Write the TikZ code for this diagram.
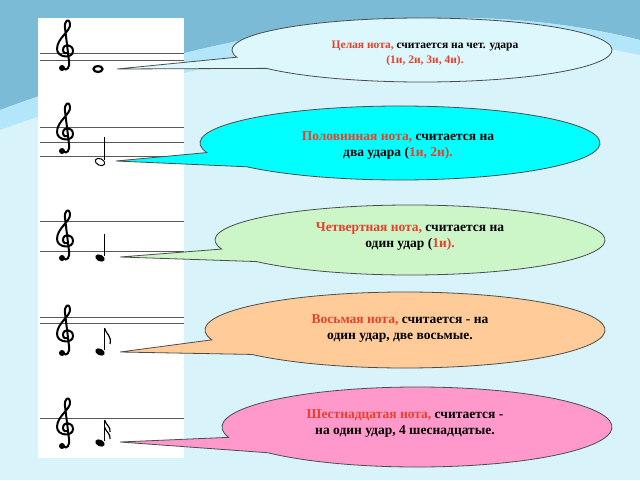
\documentclass[tikz,border=0pt]{standalone}
\usepackage{fontspec}
\usetikzlibrary{calc}
\setmainfont{Liberation Serif}
\begin{document}
\begin{tikzpicture}[x=1pt,y=-1pt,
  bub/.style={draw=black!70,line width=0.8pt},
  txt/.style={font=\bfseries\fontsize{13.5}{16}\selectfont,align=center},
  staff/.style={draw=black!65,line width=0.9pt},
  trebleclef/.pic={
    \draw[line width=2pt,line cap=round] (-3,22) .. controls (1,26) and (4,21) .. (3,15) -- (-1,-18) .. controls (-2,-25) and (3,-29) .. (4,-22) .. controls (5,-15) and (-9,-8) .. (-9,3) .. controls (-9,12) and (7,13) .. (7,5) .. controls (7,-2) and (-3,-3) .. (-3,4) .. controls (-3,7) and (0,8) .. (1,7);
    \fill (-4,22) circle (3);
  }]
\definecolor{bg}{HTML}{D8F4FA}\definecolor{rd}{HTML}{E8402A}
\useasboundingbox (0,0) rectangle (640,480);
\fill[bg] (0,0) rectangle (640,480);
\fill[cyan!45!teal!60] (0,0) -- (640,0) -- (640,40) .. controls (500,5) and (300,0) .. (0,110) -- cycle;
\fill[cyan!30!white] (0,110) .. controls (300,0) and (500,5) .. (640,40) -- (640,55) .. controls (500,25) and (300,20) .. (0,130) -- cycle;
\fill[white] (38,18) rectangle (184,458);
% staffs
\foreach \y in {53,60,127,142,156,221,251,317,323,418} \draw[staff] (40,\y) -- (184,\y);
\foreach \y/\n in {46/c1,129/c2,236/c3,331/c4,424/c5} \pic (\n) at (66,\y) {trebleclef};
% notes
\draw[line width=2.2pt] (98,69) ellipse (4.5 and 3);
\coordinate (n1) at (117,69);
\draw[line width=1pt,rotate around={-25:(100,162)}] (100,162) ellipse (5 and 3.3);
\draw[line width=0.9pt] (104.5,160) -- (104.5,137);
\coordinate (n2) at (116,161);
\fill[rotate around={-25:(100,258)}] (100,258) ellipse (5 and 3.3);
\draw[line width=0.9pt] (104.5,256) -- (104.5,234);
\coordinate (n3) at (120,257);
\fill[rotate around={-25:(100,352)}] (100,352) ellipse (5 and 3.3);
\draw[line width=0.9pt] (104.5,350) -- (104.5,328);
\draw[line width=1.2pt] (104.5,328) .. controls (106,334) and (112,336) .. (110,344);
\coordinate (n4) at (120,352);
\fill[rotate around={-25:(100,443)}] (100,443) ellipse (5 and 3.3);
\draw[line width=0.9pt] (104.5,441) -- (104.5,420);
\draw[line width=1.2pt] (104.5,420) .. controls (106,425) and (111,427) .. (110,432);
\draw[line width=1.2pt] (104.5,427) .. controls (106,432) and (111,434) .. (110,439);
\coordinate (n5) at (120,442);
% bubbles
\foreach \cx/\cy/\rx/\ry/\col/\t/\a/\b in {
  422/50/190/32/DDF8FC/n1/167/145,
  400/143/200/37/00FFFF/n2/165/140,
  410/240/195/35/CCF5C8/n3/165/142,
  405/330/200/38/FFCC99/n4/165/140,
  417/427/195/40/FF99CC/n5/165/140}{
  \definecolor{bc}{HTML}{\col}
  \filldraw[bub,fill=bc] (\t) -- ($(\cx,\cy)+(\a:{\rx} and {\ry})$) arc[start angle=\a,end angle=\b+360,x radius=\rx,y radius=\ry] -- cycle;
}
\node[txt,font=\bfseries\fontsize{11.5}{15}\selectfont] (t1) at (425,53) {\textcolor{rd}{Целая нота,} считается на чет. удара\\\textcolor{rd}{(1и, 2и, 3и, 4и).}};
\node[txt] (t2) at (398,146) {\textcolor{rd}{Половинная нота,} считается на\\два удара (\textcolor{rd}{1и, 2и).}};
\node[txt] (t3) at (410,237) {\textcolor{rd}{Четвертная нота,} считается на\\один удар (\textcolor{rd}{1и).}};
\node[txt] (t4) at (400,329) {\textcolor{rd}{Восьмая нота,} считается - на\\один удар, две восьмые.};
\node[txt] (t5) at (405,424) {\textcolor{rd}{Шестнадцатая нота,} считается -\\на один удар, 4 шеснадцатые.};
\end{tikzpicture}
\end{document}
